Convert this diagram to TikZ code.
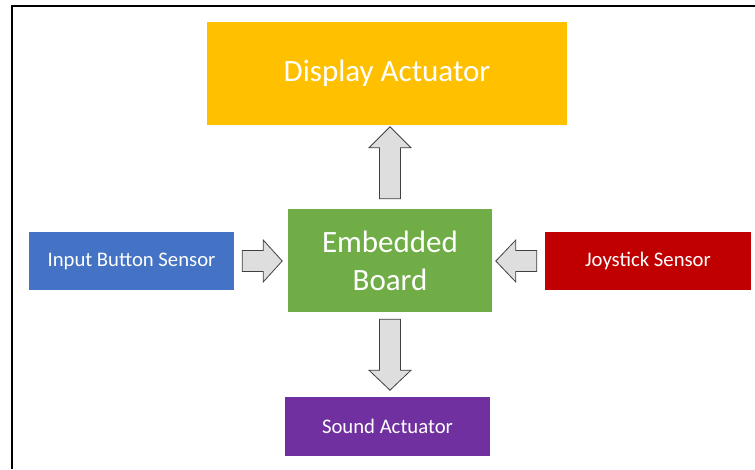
\documentclass[tikz,border=0pt]{standalone}
\usepackage{fontspec}
\setmainfont{Carlito}
\usetikzlibrary{calc}
\definecolor{cgold}{HTML}{FFC000}
\definecolor{cgreen}{HTML}{70AD47}
\definecolor{cblue}{HTML}{4472C4}
\definecolor{cred}{HTML}{C00000}
\definecolor{cpurple}{HTML}{7030A0}
\definecolor{carrowfill}{HTML}{DEDEDE}
\definecolor{carrowline}{HTML}{404040}
\newcommand{\bkarrow}[4]{%
  \draw[blockarrow, shift={(#1)}, rotate=#2]
    (0,-10.5) -- ({#3-#4},-10.5) -- ({#3-#4},-21) -- (#3,0) -- ({#3-#4},21) -- ({#3-#4},10.5) -- (0,10.5) -- cycle;}
\begin{document}
\begin{tikzpicture}[x=1pt,y=1pt,
  box/.style={rectangle, draw=none, text=white, inner sep=0pt, align=center},
  bigtext/.style={font=\fontsize{31}{38}\selectfont},
  smalltext/.style={font=\fontsize{20.7}{25}\selectfont},
  blockarrow/.style={fill=carrowfill, draw=carrowline, line width=0.8pt, line join=miter}]
\useasboundingbox (0,0) rectangle (755,-469);
\fill[white] (0,0) rectangle (755,-469);
\draw[line width=2pt] (755,-6) -- (12,-6) -- (12,-469);

\node[box, bigtext, fill=cgold, minimum width=360pt, minimum height=103pt] (display) at (387,-73.5) {\raisebox{-2pt}{Display Actuator}};
\node[box, bigtext, fill=cgreen, minimum width=204pt, minimum height=103pt] (board) at (390,-260.5) {\raisebox{-1.5pt}{Embedded}\\\raisebox{-1.5pt}{Board}};
\node[box, smalltext, fill=cblue, minimum width=205pt, minimum height=58pt] (inbtn) at (131.5,-261) {\raisebox{-1.5pt}{Input Button Sensor}};
\node[box, smalltext, fill=cred, minimum width=206pt, minimum height=58pt] (joy) at (648,-261) {\raisebox{-1.5pt}{Joystick Sensor}};
\node[box, smalltext, fill=cpurple, minimum width=205pt, minimum height=59pt] (sound) at (387.5,-426.5) {\raisebox{-1.5pt}{Sound Actuator}};

\coordinate (upstart) at ($(board.north)+(0,10)$);
\coordinate (downstart) at ($(board.south)+(0,-7)$);
\coordinate (rightstart) at ($(inbtn.east)+(8,0)$);
\coordinate (leftstart) at ($(joy.west)+(-8,0)$);
\bkarrow{upstart}{90}{72}{21}
\bkarrow{downstart}{-90}{71}{20}
\bkarrow{rightstart}{0}{40}{19}
\bkarrow{leftstart}{180}{41}{20}
\end{tikzpicture}
\end{document}
